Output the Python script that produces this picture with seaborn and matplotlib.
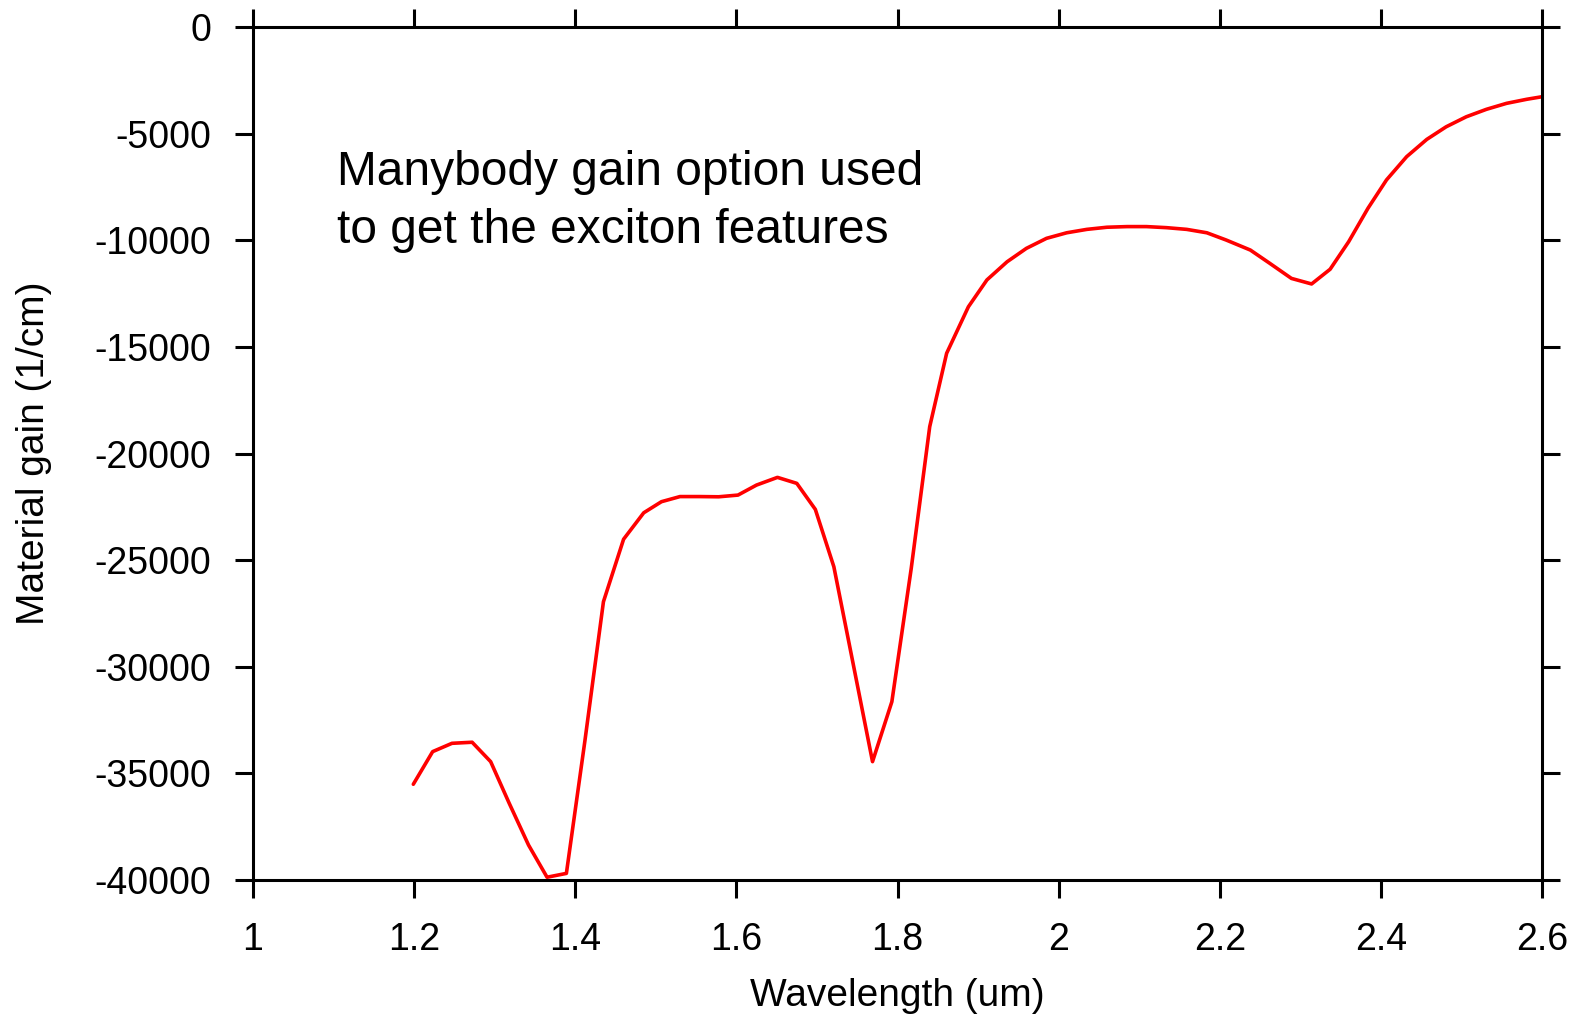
import matplotlib
matplotlib.use("Agg")
import matplotlib.pyplot as plt
import seaborn as sns
import pandas as pd

wavelength = [1.199, 1.223, 1.247, 1.272, 1.295, 1.318, 1.342, 1.365, 1.389, 1.412,
              1.435, 1.460, 1.485, 1.507, 1.530, 1.554, 1.578, 1.602, 1.625, 1.651,
              1.675, 1.698, 1.721, 1.745, 1.769, 1.793, 1.817, 1.840, 1.861, 1.888,
              1.911, 1.936, 1.960, 1.985, 2.010, 2.035, 2.060, 2.085, 2.109, 2.134,
              2.159, 2.184, 2.208, 2.238, 2.262, 2.289, 2.314, 2.337, 2.360, 2.384,
              2.407, 2.432, 2.457, 2.481, 2.506, 2.531, 2.556, 2.581, 2.600]
gain = [-35510, -33980, -33590, -33540, -34450, -36400, -38360, -39870, -39690, -33470,
        -26950, -24020, -22780, -22260, -22020, -22020, -22030, -21950, -21480, -21120,
        -21400, -22620, -25310, -29870, -34450, -31640, -25400, -18740, -15300, -13120,
        -11860, -11010, -10380, -9910, -9650, -9490, -9390, -9360, -9360, -9410,
        -9490, -9650, -9990, -10460, -11080, -11790, -12050, -11360, -10070, -8500,
        -7170, -6080, -5270, -4680, -4210, -3860, -3580, -3390, -3270]

x_ticks = [1, 1.2, 1.4, 1.6, 1.8, 2, 2.2, 2.4, 2.6]
x_tick_labels = ["1", "1.2", "1.4", "1.6", "1.8", "2", "2.2", "2.4", "2.6"]
y_ticks = [0, -5000, -10000, -15000, -20000, -25000, -30000, -35000, -40000]
y_tick_labels = ["0", "-5000", "-10000", "-15000", "-20000", "-25000", "-30000", "-35000", "-40000"]

annotation = "Manybody gain option used\nto get the exciton features"
x_label = "Wavelength (um)"
y_label = "Material gain (1/cm)"

sns.set_style("ticks")
plt.rcParams["font.family"] = ["Liberation Sans", "DejaVu Sans"]

df = pd.DataFrame({"wavelength": wavelength, "gain": gain})

fig = plt.figure(figsize=(15.8, 10.16), dpi=100)
ax = fig.add_axes([253 / 1580, 1 - 880 / 1016, (1542 - 253) / 1580, (880 - 27) / 1016])

sns.lineplot(data=df, x="wavelength", y="gain", ax=ax, color="#ff0000",
             linewidth=2.6, sort=False)

ax.set_xlim(1, 2.6)
ax.set_ylim(-40000, 0)
ax.set_xticks(x_ticks)
ax.set_xticklabels(x_tick_labels)
ax.set_yticks(y_ticks)
ax.set_yticklabels(y_tick_labels)

for sp in ax.spines.values():
    sp.set_visible(True)
    sp.set_linewidth(2.2)
    sp.set_color("black")

ax.tick_params(axis="both", which="major", direction="out", length=13, width=2.2,
               colors="black", labelsize=27, pad=17,
               top=True, right=True, labeltop=False, labelright=False)

ax.set_xlabel(x_label, fontsize=28, color="black", labelpad=15)
ax.set_ylabel(y_label, fontsize=28, color="black", labelpad=31)

ax.text(337, 1016 - 150, annotation, transform=None, fontsize=34.5,
        ha="left", va="top", color="black", linespacing=1.36)

ax.grid(False)
fig.savefig("out.png", dpi=100, facecolor="white")
